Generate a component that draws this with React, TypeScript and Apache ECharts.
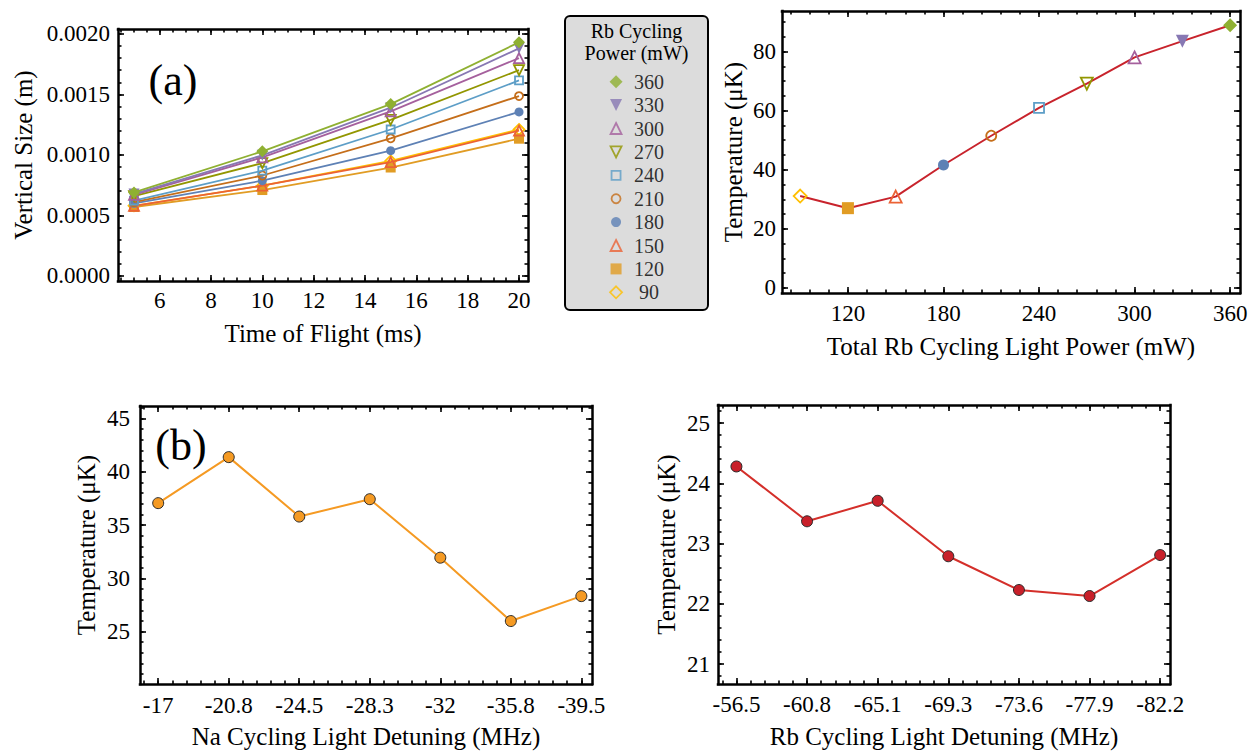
import React, { useEffect, useRef } from "react";
import * as echarts from "echarts";

// ---------- data ----------
const tof = [5, 10, 15, 20];
const powers = [90, 120, 150, 180, 210, 240, 270, 300, 330, 360];
const size90 = [0.00058, 0.000746, 0.00095, 0.00121];
const size120 = [0.00057, 0.00071, 0.000896, 0.001134];
const size150 = [0.00058, 0.000746, 0.00094, 0.0012];
const size180 = [0.0006, 0.000787, 0.001035, 0.001355];
const size210 = [0.00061, 0.00083, 0.001137, 0.001486];
const size240 = [0.000623, 0.00087, 0.00121, 0.001615];
const size270 = [0.00066, 0.000932, 0.00129, 0.0017];
const size300 = [0.00067, 0.00098, 0.00136, 0.0018];
const size330 = [0.000678, 0.000997, 0.00139, 0.00188];
const size360 = [0.00069, 0.00103, 0.00142, 0.00193];
const sizes = [size90, size120, size150, size180, size210, size240, size270, size300, size330, size360];

const tempVsPower = [31.1, 27.0, 30.9, 41.6, 51.5, 60.9, 69.1, 78.0, 83.5, 88.9];

const naDetuning = ["-17", "-20.8", "-24.5", "-28.3", "-32", "-35.8", "-39.5"];
const naTemp = [37.06, 41.38, 35.8, 37.43, 31.94, 25.99, 28.33];
const rbDetuning = ["-56.5", "-60.8", "-65.1", "-69.3", "-73.6", "-77.9", "-82.2"];
const rbTemp = [24.28, 23.37, 23.71, 22.79, 22.23, 22.13, 22.81];

const aXTicks = [6, 8, 10, 12, 14, 16, 18, 20];
const aYTicks = [0, 0.0005, 0.001, 0.0015, 0.002];
const bXTicks = [120, 180, 240, 300, 360];
const bYTicks = [0, 20, 40, 60, 80];
const cYTicks = [25, 30, 35, 40, 45];
const dYTicks = [21, 22, 23, 24, 25];

const colors: Record<number, string> = {
  360: "#8fb032", 330: "#8778b3", 300: "#a5609d", 270: "#929600", 240: "#5d9ec7",
  210: "#c56e1a", 180: "#5e81b5", 150: "#eb6235", 120: "#e19c24", 90: "#ffbf00",
};
const markers: Record<number, { symbol: string; rotate: number; filled: boolean; size: number }> = {
  360: { symbol: "diamond", rotate: 0, filled: true, size: 13 },
  330: { symbol: "triangle", rotate: 180, filled: true, size: 12 },
  300: { symbol: "triangle", rotate: 0, filled: false, size: 11 },
  270: { symbol: "triangle", rotate: 180, filled: false, size: 11 },
  240: { symbol: "rect", rotate: 0, filled: false, size: 9 },
  210: { symbol: "circle", rotate: 0, filled: false, size: 9 },
  180: { symbol: "circle", rotate: 0, filled: true, size: 10 },
  150: { symbol: "triangle", rotate: 0, filled: false, size: 11 },
  120: { symbol: "rect", rotate: 0, filled: true, size: 11 },
  90: { symbol: "diamond", rotate: 0, filled: false, size: 12 },
};

const FONT = "Liberation Serif";
const TICK_FS = 23;
const NAME_FS = 25;

function stepValues(min: number, max: number, step: number) {
  const out: number[] = [];
  const start = Math.ceil(min / step - 1e-9);
  for (let k = start; k * step <= max + 1e-9; k++) out.push(Math.round(k * step * 1e6) / 1e6);
  return out;
}

function itemStyleFor(p: number) {
  const m = markers[p];
  const c = colors[p];
  return m.filled
    ? { color: c, borderWidth: 0 }
    : { color: "rgba(0,0,0,0)", borderColor: c, borderWidth: 1.8 };
}

type AxCfg = {
  min: number; max: number; majors: number[]; minorStep: number;
  fmt?: (v: number) => string; name: string; nameGap: number; labelMargin: number;
};

function frameAxes(dim: "x" | "y", gridIndex: number, cfg: AxCfg) {
  const sides = dim === "x" ? ["bottom", "top"] : ["left", "right"];
  const minors = stepValues(cfg.min, cfg.max, cfg.minorStep);
  const axes: any[] = [];
  sides.forEach((side, si) => {
    ["major", "minor"].forEach((kind) => {
      const main = si === 0 && kind === "major";
      axes.push({
        type: "value",
        gridIndex,
        position: side,
        min: cfg.min,
        max: cfg.max,
        axisLine: {
          show: kind === "major",
          onZero: false,
          lineStyle: { color: "#000", width: 2.5, cap: "square" },
        },
        axisTick: {
          show: true,
          inside: true,
          length: kind === "major" ? 6 : 3.5,
          customValues: kind === "major" ? cfg.majors : minors,
          lineStyle: { color: "#000", width: 1.6 },
        },
        axisLabel: {
          show: main,
          customValues: cfg.majors,
          formatter: cfg.fmt ? (v: number) => cfg.fmt!(v) : (v: number) => String(v),
          fontFamily: FONT,
          fontSize: TICK_FS,
          color: "#000",
          margin: cfg.labelMargin,
          showMinLabel: true,
          showMaxLabel: true,
        },
        splitLine: { show: false },
        name: main ? cfg.name : "",
        nameLocation: "middle",
        nameGap: cfg.nameGap,
        nameTextStyle: { fontFamily: FONT, fontSize: NAME_FS, color: "#000" },
      });
    });
  });
  return axes;
}

export default function App() {
  const ref = useRef<HTMLDivElement>(null);
  useEffect(() => {
    document.body.style.margin = "0";
    if (!ref.current) return;
    const chart = echarts.init(ref.current, undefined, { renderer: "svg" });

    const grids = [
      { left: 118, top: 29, width: 410, height: 252, outerBoundsMode: "none" },
      { left: 782, top: 11, width: 458, height: 282, outerBoundsMode: "none" },
      { left: 140, top: 406, width: 452, height: 278, outerBoundsMode: "none" },
      { left: 718, top: 405, width: 452, height: 279, outerBoundsMode: "none" },
      { left: 565, top: 70, width: 143, height: 234, outerBoundsMode: "none" },
    ];

    const xAxes = [
      ...frameAxes("x", 0, { min: 4.377, max: 20.35, majors: aXTicks, minorStep: 0.5, name: "Time of Flight (ms)", nameGap: 40, labelMargin: 8 }),
      ...frameAxes("x", 1, { min: 78.6, max: 366.2, majors: bXTicks, minorStep: 12, name: "Total Rb Cycling Light Power (mW)", nameGap: 41, labelMargin: 9 }),
      ...frameAxes("x", 2, { min: -0.258, max: 6.151, majors: naDetuning.map((_, i) => i), minorStep: 0.2, fmt: (v) => naDetuning[Math.round(v)] ?? "", name: "Na Cycling Light Detuning (MHz)", nameGap: 40, labelMargin: 10 }),
      ...frameAxes("x", 3, { min: -0.261, max: 6.139, majors: rbDetuning.map((_, i) => i), minorStep: 0.2, fmt: (v) => rbDetuning[Math.round(v)] ?? "", name: "Rb Cycling Light Detuning (MHz)", nameGap: 40, labelMargin: 9 }),
      { type: "value", gridIndex: 4, min: 0, max: 1, show: false },
    ];
    const yAxes = [
      ...frameAxes("y", 0, { min: -0.0000413, max: 0.00204, majors: aYTicks, minorStep: 0.0001, fmt: (v) => v.toFixed(4), name: "Vertical Size (m)", nameGap: 82, labelMargin: 8 }),
      ...frameAxes("y", 1, { min: -1.7, max: 93.7, majors: bYTicks, minorStep: 5, name: "Temperature (μK)", nameGap: 36, labelMargin: 6 }),
      ...frameAxes("y", 2, { min: 20.08, max: 46.18, majors: cYTicks, minorStep: 1, name: "Temperature (μK)", nameGap: 41, labelMargin: 10 }),
      ...frameAxes("y", 3, { min: 20.67, max: 25.3, majors: dYTicks, minorStep: 0.2, name: "Temperature (μK)", nameGap: 39, labelMargin: 8 }),
      { type: "category", gridIndex: 4, data: [...powers].reverse().map(String), inverse: true, show: false },
    ];

    const seriesA = powers.map((p, i) => ({
      type: "line",
      name: String(p),
      xAxisIndex: 0,
      yAxisIndex: 0,
      data: tof.map((t, j) => [t, sizes[i][j]]),
      symbol: markers[p].symbol,
      symbolRotate: markers[p].rotate,
      symbolSize: markers[p].size - 1,
      lineStyle: { color: colors[p], width: 1.8 },
      itemStyle: itemStyleFor(p),
      z: 3 + i * 0.1,
    }));

    const seriesB = {
      type: "line",
      name: "Temperature vs power",
      xAxisIndex: 4,
      yAxisIndex: 4,
      data: powers.map((p, i) => ({
        value: [p, tempVsPower[i]],
        symbol: markers[p].symbol,
        symbolRotate: markers[p].rotate,
        symbolSize: markers[p].size + 1,
        itemStyle: itemStyleFor(p),
      })),
      lineStyle: { color: "#c8232c", width: 2 },
      z: 3,
    };

    const seriesC = {
      type: "line",
      name: "Na detuning",
      xAxisIndex: 8,
      yAxisIndex: 8,
      data: naTemp.map((t, i) => [i, t]),
      symbol: "circle",
      symbolSize: 11,
      lineStyle: { color: "#f59a23", width: 2 },
      itemStyle: { color: "#f59a23", borderColor: "#2a2a2a", borderWidth: 1 },
      z: 3,
    };

    const seriesD = {
      type: "line",
      name: "Rb detuning",
      xAxisIndex: 12,
      yAxisIndex: 12,
      data: rbTemp.map((t, i) => [i, t]),
      symbol: "circle",
      symbolSize: 11,
      lineStyle: { color: "#d42f2a", width: 2 },
      itemStyle: { color: "#c8202a", borderColor: "#2a2a2a", borderWidth: 1 },
      z: 3,
    };

    const legendOrder = [...powers].reverse();
    const seriesLegend = {
      type: "scatter",
      name: "legend",
      xAxisIndex: 16,
      yAxisIndex: 16,
      data: legendOrder.map((p, i) => ({
        value: [0.357, i],
        name: String(p),
        symbol: markers[p].symbol,
        symbolRotate: markers[p].rotate,
        symbolSize: markers[p].size,
        itemStyle: itemStyleFor(p),
      })),
      label: {
        show: true,
        position: "inside",
        offset: [33, 0],
        align: "center",
        verticalAlign: "middle",
        formatter: "{b}",
        fontFamily: FONT,
        fontSize: 20,
        color: "#000",
      },
      z: 5,
    };

    chart.setOption({
      animation: false,
      textStyle: { fontFamily: FONT },
      grid: grids,
      xAxis: xAxes,
      yAxis: yAxes,
      series: [...seriesA, seriesB, seriesC, seriesD, seriesLegend],
      graphic: [
        {
          type: "rect",
          shape: { x: 565, y: 16, width: 143, height: 294, r: 5 },
          style: { fill: "#dcdcdc", stroke: "#000", lineWidth: 2 },
          z: 1,
        },
        {
          type: "text",
          x: 636.5, y: 31,
          style: { text: "Rb Cycling", fontFamily: FONT, fontSize: 20, fill: "#000", align: "center", verticalAlign: "middle" },
          z: 6,
        },
        {
          type: "text",
          x: 636.5, y: 53,
          style: { text: "Power (mW)", fontFamily: FONT, fontSize: 20, fill: "#000", align: "center", verticalAlign: "middle" },
          z: 6,
        },
        {
          type: "text",
          x: 173, y: 80,
          style: { text: "(a)", fontFamily: FONT, fontSize: 44, fill: "#000", align: "center", verticalAlign: "middle" },
          z: 6,
        },
        {
          type: "text",
          x: 181, y: 445,
          style: { text: "(b)", fontFamily: FONT, fontSize: 44, fill: "#000", align: "center", verticalAlign: "middle" },
          z: 6,
        },
      ],
    });
    return () => chart.dispose();
  }, []);
  return <div ref={ref} style={{ width: 1255, height: 752 }} />;
}
